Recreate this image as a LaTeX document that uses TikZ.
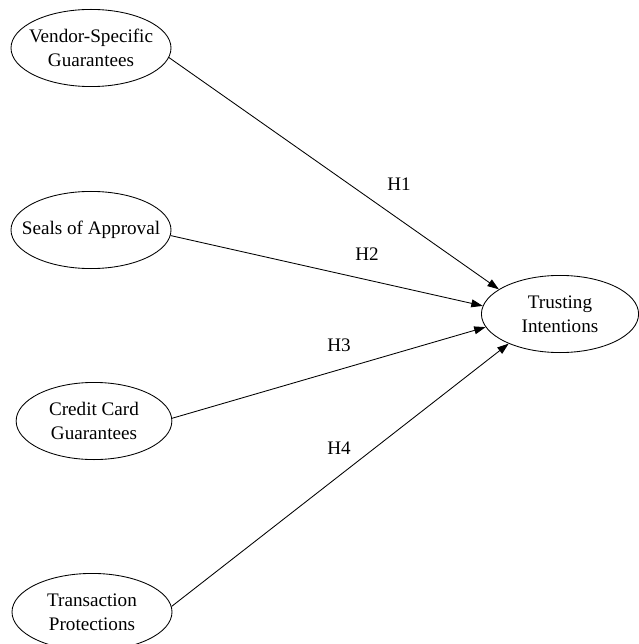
\documentclass[tikz,border=0pt]{standalone}
\usepackage{fontspec}
\setmainfont{Liberation Serif}
\usetikzlibrary{arrows.meta,shapes.geometric}

\begin{document}
\begin{tikzpicture}[x=0.7pt,y=-0.7pt,every node/.style={font=\fontsize{13.4}{17}\selectfont},
 ell/.style={draw,ellipse,line width=0.6pt,minimum width=112pt,minimum height=54pt,inner sep=0pt},
 txt/.style={align=center},
 arr/.style={-{Triangle[length=8pt,width=5.5pt]},line width=0.6pt}]
\useasboundingbox (0,0) rectangle (638,644);
\node[ell,label={[txt]center:Vendor-Specific\\Guarantees}] (vsg) at (91,48) {};
\node[ell,label={[txt]center:Seals of Approval}] (soa) at (91,230) {};
\node[ell,minimum width=109pt,label={[txt]center:Credit Card\\Guarantees}] (ccg) at (94,421) {};
\node[ell,label={[txt]center:Transaction\\Protections}] (tp) at (92,612) {};
\node[ell,minimum width=110pt,label={[txt]center:Trusting\\Intentions}] (ti) at (560,314) {};
\node (h1) at (399,184) {H1};
\node (h2) at (367,254) {H2};
\node (h3) at (339,345) {H3};
\node (h4) at (339,448) {H4};
\draw[arr](vsg.-7)--(ti.158);\draw[arr](soa.-4)--(ti.174);
\draw[arr](ccg.2)--(ti.190);\draw[arr](tp.4)--(ti.210);
\end{tikzpicture}
\end{document}
